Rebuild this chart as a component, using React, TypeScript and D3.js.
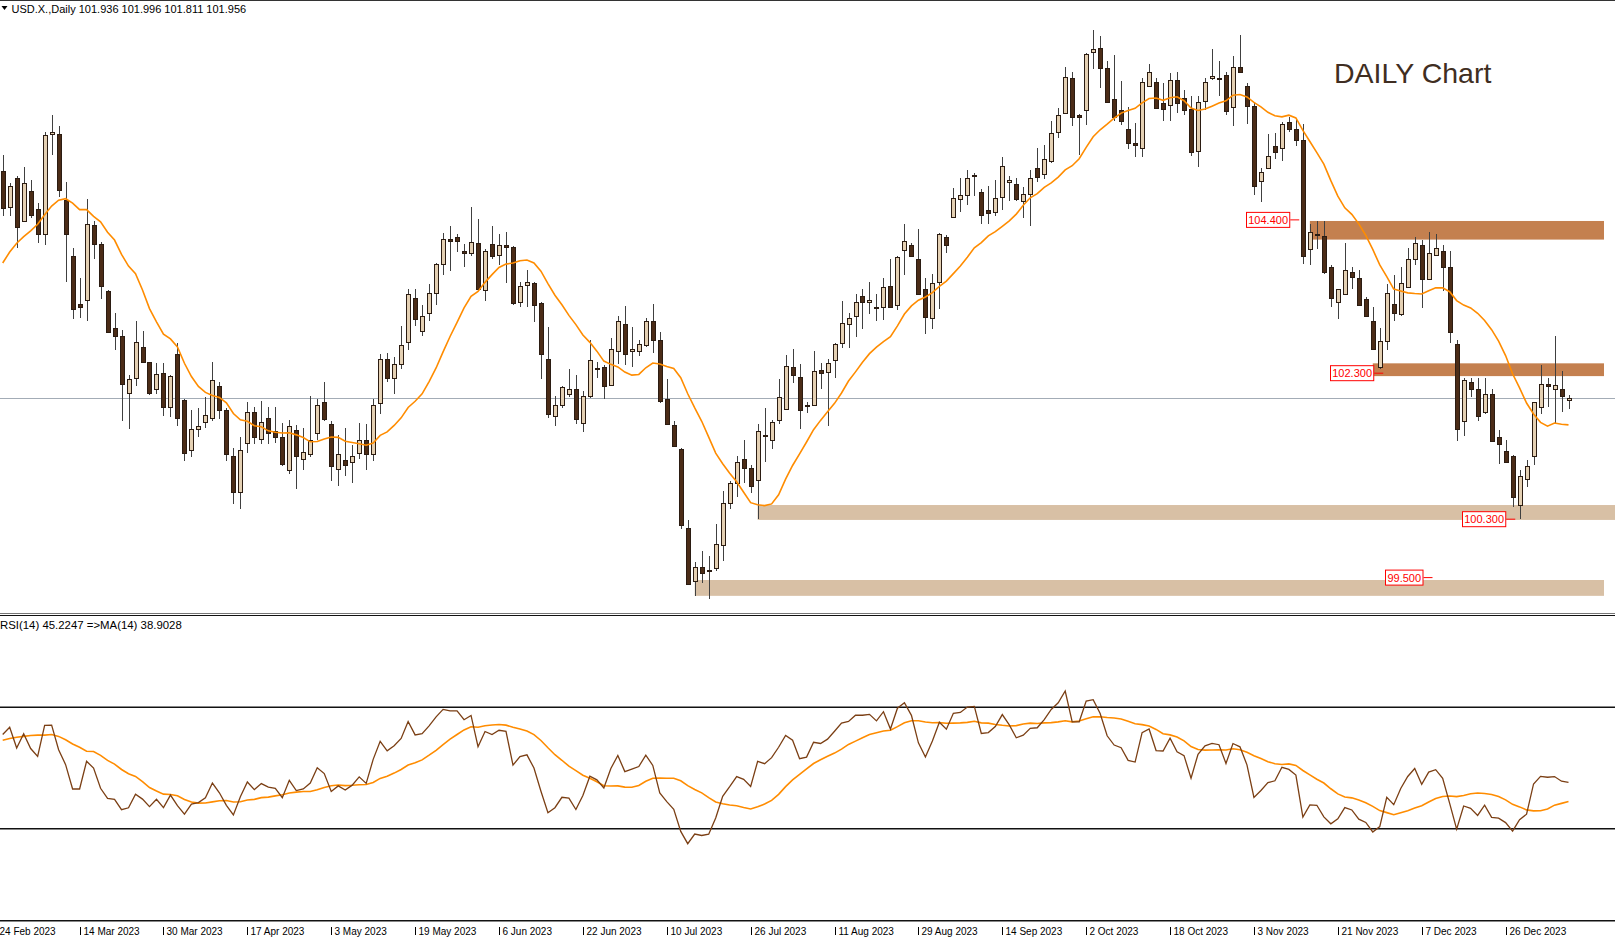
import React, { useEffect } from "react";
import * as d3 from "d3";

const W = 1615;
const H = 941;

// ---- OHLC data (USD.X daily, 27 Feb 2023 -> 9 Jan 2024) ----
const opens = [
  105.07,104.58,104.98,104.39,104.80,104.55,104.20,105.57,105.57,104.67,
  103.90,103.25,103.30,104.33,104.07,103.42,102.92,102.81,102.03,102.24,
  102.66,102.45,102.08,102.30,101.83,102.56,101.93,101.25,101.53,101.63,
  101.68,102.13,101.79,101.17,100.67,101.35,101.77,101.40,101.69,101.51,
  101.43,100.97,101.52,101.13,101.19,101.48,101.90,101.60,100.99,101.11,
  101.09,101.21,101.39,101.19,101.89,102.49,102.24,102.42,102.73,103.33,
  102.88,103.12,103.40,103.79,104.14,104.16,103.97,103.95,104.08,103.44,
  104.07,103.92,104.05,104.03,103.27,103.51,103.53,103.26,102.50,101.71,
  101.86,102.02,102.08,101.62,101.99,102.36,102.38,102.14,102.60,102.98,
  102.60,102.61,102.68,103.01,102.76,101.95,101.59,101.26,100.18,99.45,
  99.64,99.60,99.63,99.95,100.52,100.80,101.13,101.00,100.84,101.45,
  101.39,101.66,101.81,102.38,102.25,101.86,101.86,102.34,102.31,102.48,
  102.71,102.98,103.08,103.36,103.27,103.21,103.21,103.49,103.23,103.99,
  104.06,103.86,103.45,103.05,103.55,104.16,104.44,104.68,104.74,105.00,
  104.78,104.54,104.51,104.72,104.92,104.89,104.66,104.75,105.11,105.03,
  105.21,105.60,105.86,106.35,105.84,105.90,106.70,106.75,106.48,106.06,
  105.90,105.64,105.46,105.38,106.24,106.29,106.00,105.97,106.32,106.07,
  105.92,105.35,106.03,106.34,106.35,106.39,105.95,106.49,106.23,105.96,
  104.93,105.11,105.41,105.39,105.74,105.65,105.49,104.00,104.21,104.18,
  103.76,103.27,103.39,103.69,103.61,103.31,103.01,102.38,102.74,103.25,
  103.11,103.48,103.87,104.06,103.59,103.92,103.97,103.75,102.70,101.65,
  102.18,102.08,101.77,102.01,101.42,101.24,101.17,100.50,100.85,101.17,
  101.83,102.15,102.09,102.08,101.936,
];
const highs = [
  105.29,104.91,105.00,105.12,104.95,104.63,105.60,105.84,105.69,104.92,
  104.01,103.60,104.69,104.38,104.10,103.44,103.12,102.89,102.28,103.01,
  102.88,102.46,102.44,102.44,102.28,102.72,101.95,101.80,101.82,101.97,
  102.46,102.18,101.82,101.27,101.42,101.90,101.83,101.92,101.83,101.83,
  101.62,101.66,101.59,101.55,101.99,101.95,102.18,101.65,101.46,101.55,
  101.31,101.62,101.60,101.95,102.56,102.57,102.52,102.94,103.46,103.46,
  103.23,103.52,103.81,104.22,104.32,104.20,104.07,104.57,104.41,104.00,
  104.32,104.20,104.23,104.04,103.55,103.71,103.55,103.27,102.93,101.99,
  102.13,102.36,102.28,102.06,102.76,102.46,102.41,102.78,103.08,103.22,
  102.93,102.75,103.05,103.25,102.86,102.22,101.64,101.27,100.29,99.71,
  99.86,99.79,100.24,100.68,100.82,101.16,101.39,101.04,101.60,101.82,
  101.66,102.22,102.55,102.63,102.42,101.91,102.60,102.44,102.49,102.72,
  103.29,103.13,103.39,103.45,103.55,103.38,103.60,103.87,103.91,104.35,
  104.09,104.27,103.61,103.66,104.22,104.19,104.83,104.97,105.09,105.04,
  104.82,104.87,104.94,105.26,105.00,104.98,104.85,105.08,105.38,105.42,
  105.75,105.93,106.49,106.43,105.85,106.68,107.00,106.92,106.57,106.66,
  106.30,105.95,105.73,106.34,106.53,106.35,106.27,106.41,106.43,106.18,
  106.10,106.10,106.35,106.74,106.57,106.43,106.65,106.93,106.28,106.00,
  105.11,105.57,105.59,105.74,105.81,105.80,105.71,104.34,104.39,104.39,
  103.78,103.46,104.09,103.75,103.72,103.35,103.20,102.92,103.52,103.65,
  103.76,104.01,104.16,104.13,104.23,104.20,104.05,103.97,102.76,102.24,
  102.24,102.24,102.24,102.08,101.52,101.39,101.18,100.97,101.11,101.91,
  102.41,102.24,102.81,102.33,101.996,
];
const lows = [
  104.45,104.45,104.01,104.38,104.42,104.09,104.06,105.29,104.72,103.55,
  103.04,103.05,103.01,103.86,103.31,102.85,102.62,101.65,101.53,102.13,
  102.45,102.00,102.02,101.72,101.70,101.57,101.10,101.15,101.42,101.55,
  101.65,101.67,101.10,100.51,100.44,101.20,101.33,101.33,101.33,101.35,
  101.03,100.92,100.71,100.98,101.15,101.39,101.65,100.82,100.76,100.89,
  100.80,101.13,100.98,101.10,101.74,102.18,102.01,102.36,102.62,102.95,
  102.81,103.02,103.23,103.65,103.70,103.96,103.75,103.90,103.44,103.29,
  103.87,103.78,103.53,103.23,103.20,103.20,103.00,102.22,101.69,101.58,
  101.82,101.98,101.60,101.49,101.96,102.23,101.94,102.12,102.43,102.41,
  102.39,102.53,102.66,102.58,101.89,101.59,101.29,100.16,99.40,99.25,
  99.43,99.20,99.59,99.73,100.44,100.61,100.79,100.66,100.30,101.08,
  101.26,101.60,101.80,102.16,101.53,101.75,101.85,102.09,101.58,102.24,
  102.64,102.64,102.80,102.91,103.11,103.02,103.03,103.20,103.16,103.64,
  103.89,103.37,102.84,102.91,103.18,103.94,104.44,104.51,104.60,104.73,
  104.34,104.35,104.45,104.53,104.66,104.66,104.42,104.31,104.92,104.96,
  105.18,105.52,105.85,105.69,105.29,105.70,106.46,106.20,106.01,105.75,
  105.70,105.37,105.26,105.26,106.23,105.92,105.76,105.76,105.87,105.84,
  105.28,105.12,105.91,106.32,106.10,105.84,105.68,106.41,105.71,104.74,
  104.64,105.10,105.24,105.20,105.60,105.41,103.80,103.78,104.00,103.66,
  103.21,103.04,103.37,103.45,103.22,103.07,102.62,102.36,102.62,103.02,
  103.09,103.47,103.78,103.19,103.58,103.91,103.42,102.72,101.37,101.44,
  101.98,101.65,101.74,101.36,101.06,101.08,100.47,100.30,100.74,101.04,
  101.74,101.84,101.61,101.77,101.811,
];
const closes = [
  104.56,104.86,104.30,104.90,104.47,104.20,105.56,105.61,104.81,104.20,
  103.18,103.21,104.35,104.07,103.49,102.87,102.81,102.15,102.22,102.73,
  102.46,102.03,102.29,101.83,102.26,101.69,101.20,101.53,101.58,101.73,
  102.21,101.79,101.19,100.67,101.25,101.77,101.42,101.63,101.48,101.43,
  101.05,101.58,101.17,101.22,101.39,101.86,101.67,101.03,101.19,101.04,
  101.17,101.39,101.19,101.87,102.50,102.24,102.42,102.68,103.38,103.04,
  103.09,103.40,103.79,104.14,104.11,104.11,103.94,104.10,103.45,103.97,
  103.90,104.05,104.03,103.26,103.50,103.55,103.23,102.56,101.74,101.86,
  102.11,102.08,101.67,101.99,102.48,102.37,102.12,102.63,103.02,102.56,
  102.63,102.70,103.02,102.76,101.92,101.60,101.30,100.22,99.41,99.65,
  99.56,99.59,99.96,100.52,100.79,101.09,101.00,100.76,101.51,101.44,
  101.63,101.97,102.40,102.28,101.80,101.85,102.33,102.30,102.44,102.70,
  102.99,103.05,103.27,103.27,103.30,103.20,103.48,103.21,103.89,104.11,
  103.90,103.38,103.07,103.53,104.20,104.05,104.70,104.74,104.98,105.01,
  104.47,104.50,104.70,105.14,104.94,104.68,104.76,104.97,104.99,105.24,
  105.59,105.84,106.36,105.81,105.81,106.67,106.74,106.48,106.02,105.81,
  105.75,105.46,105.42,106.29,106.42,105.93,105.92,106.31,106.00,105.91,
  105.33,106.01,106.29,106.37,106.34,105.89,106.50,106.42,105.96,104.87,
  105.06,105.28,105.33,105.71,105.65,105.49,103.90,104.23,104.21,103.68,
  103.33,103.45,103.72,103.62,103.23,103.08,102.63,102.74,103.40,103.12,
  103.53,103.86,104.09,103.59,103.94,104.01,103.75,102.86,101.53,102.21,
  102.09,101.71,102.01,101.37,101.33,101.09,100.60,100.89,101.03,101.90,
  102.15,102.12,102.14,101.99,101.956,
];

// values for the first bars (history before the window)
const maLeadIn = [103.81,103.96,104.08,104.17,104.25,104.34,104.47,104.59,104.67,104.69,104.63,104.54,104.54];
const rsiLeadIn = [61.0,63.4,56.6,61.3,56.4,53.8,64.0,64.1,56.0,51.1,43.1,43.1,52.2,50.0];
const rsiMaLeadIn = [59.1,59.7,60.1,60.4,60.7,60.8,60.8,61.0,60.4,59.3,57.9,56.8,55.5];

const tickLabels = [
  "24 Feb 2023","14 Mar 2023","30 Mar 2023","17 Apr 2023","3 May 2023","19 May 2023",
  "6 Jun 2023","22 Jun 2023","10 Jul 2023","26 Jul 2023","11 Aug 2023","29 Aug 2023",
  "14 Sep 2023","2 Oct 2023","18 Oct 2023","3 Nov 2023","21 Nov 2023","7 Dec 2023","26 Dec 2023",
];
const tickBars = [-1,11,23,35,47,59,71,83,95,107,119,131,143,155,167,179,191,203,215];

const levelPrices = [104.4, 102.3, 100.3, 99.5];
const levelTexts = ["104.400", "102.300", "100.300", "99.500"];
const zoneLow = [104.13, 102.26, 100.29, 99.25];
const zoneHigh = [104.385, 102.435, 100.494, 99.467];
const zoneStartBar = [187, 196, 108, 99];

const headerText = "USD.X.,Daily  101.936 101.996 101.811 101.956";
const rsiText = "RSI(14) 45.2247  =>MA(14) 38.9028";

// ---- layout / style ----
const zoneFill = ["#C4804F", "#C4804F", "#D8C0A5", "#D8C0A5"];
const zoneEndX = [1604, 1604, 1615, 1604];
const labelBoxX = [1246, 1330, 1462, 1385];
const FONT = "'Liberation Sans', Arial, sans-serif";

export default function App() {
  useEffect(() => {
    document.body.style.margin = "0";
  }, []);

  const n = closes.length;
  const x = d3.scaleLinear().domain([0, n - 1]).range([2.7, 1568.5]);
  const y = d3.scaleLinear().domain([99.015, 107.412]).range([613, 0]);
  const yr = d3.scaleLinear().domain([0, 100]).range([920, 616]);

  // SMA(14) of close
  const ma = closes.map((_, i) =>
    i < 13 ? maLeadIn[i] : (d3.mean(closes.slice(i - 13, i + 1)) as number)
  );

  // RSI(14) Wilder
  const rsi: number[] = [];
  let ag = 0;
  let al = 0;
  for (let i = 1; i <= 14; i++) {
    const d = closes[i] - closes[i - 1];
    if (d > 0) ag += d;
    else al -= d;
  }
  ag /= 14;
  al /= 14;
  for (let i = 0; i < n; i++) {
    if (i < 14) rsi.push(rsiLeadIn[i]);
    else if (i === 14) rsi.push(100 - 100 / (1 + ag / al));
    else {
      const d = closes[i] - closes[i - 1];
      ag = (ag * 13 + Math.max(d, 0)) / 14;
      al = (al * 13 + Math.max(-d, 0)) / 14;
      rsi.push(100 - 100 / (1 + ag / al));
    }
  }
  const rsiMa = rsi.map((_, i) =>
    i < 13 ? rsiMaLeadIn[i] : (d3.mean(rsi.slice(i - 13, i + 1)) as number)
  );

  const maLine = d3
    .line<number>()
    .x((_, i) => x(i))
    .y((d) => y(d))(ma) as string;
  const rsiLine = d3
    .line<number>()
    .x((_, i) => x(i))
    .y((d) => yr(d))(rsi) as string;
  const rsiMaLine = d3
    .line<number>()
    .x((_, i) => x(i))
    .y((d) => yr(d))(rsiMa) as string;

  const lastClose = closes[n - 1];

  return (
    <svg
      width={W}
      height={H}
      style={{ position: "absolute", left: 0, top: 0, display: "block", background: "#fff" }}
      fontFamily={FONT}
    >
      <rect x={0} y={0} width={W} height={H} fill="#fff" />
      <defs>
        <clipPath id="mainClip">
          <rect x={0} y={1} width={W} height={612} />
        </clipPath>
        <clipPath id="rsiClip">
          <rect x={0} y={617} width={W} height={303} />
        </clipPath>
      </defs>

      {/* main panel */}
      <g clipPath="url(#mainClip)">
        {zoneLow.map((lo, k) => (
          <rect
            key={"z" + k}
            x={x(zoneStartBar[k])}
            y={y(zoneHigh[k])}
            width={zoneEndX[k] - x(zoneStartBar[k])}
            height={y(lo) - y(zoneHigh[k])}
            fill={zoneFill[k]}
          />
        ))}
        <line x1={0} x2={W} y1={Math.round(y(lastClose)) + 0.5} y2={Math.round(y(lastClose)) + 0.5} stroke="#A3ACB6" strokeWidth={1} />
        {closes.map((c, i) => {
          const cx = Math.round(x(i));
          const o = opens[i];
          const up = c >= o;
          const yTop = Math.round(y(Math.max(o, c)));
          const yBot = Math.round(y(Math.min(o, c)));
          return (
            <g key={"c" + i}>
              <line
                x1={cx + 0.5}
                x2={cx + 0.5}
                y1={Math.round(y(highs[i]))}
                y2={Math.round(y(lows[i]))}
                stroke="#404040"
                strokeWidth={1}
              />
              <rect
                x={cx - 1.5}
                y={yTop + 0.5}
                width={4}
                height={Math.max(1, yBot - yTop)}
                fill={up ? "#E4D0B3" : "#4B2C17"}
                stroke="#2B1C12"
                strokeWidth={1}
              />
            </g>
          );
        })}
        <path d={maLine} fill="none" stroke="#FF8C00" strokeWidth={1.6} />
      </g>

      {/* level labels */}
      {levelPrices.map((p, k) => {
        const yy = y(p);
        const tw = levelTexts[k].length * 5.75;
        const bx = labelBoxX[k];
        return (
          <g key={"l" + k}>
            <line x1={bx + tw + 4} x2={bx + tw + 13} y1={yy} y2={yy} stroke="#FF0000" strokeWidth={1} />
            <rect x={bx + 0.5} y={yy - 7.5} width={tw + 3} height={15} fill="#fff" stroke="#FF0000" strokeWidth={1} />
            <text x={bx + 2 + tw / 2} y={yy + 4} textAnchor="middle" fontSize={11} fill="#FF0000">
              {levelTexts[k]}
            </text>
          </g>
        );
      })}

      <text x={1334} y={83} fontSize={28.5} fill="#3F2E22">
        DAILY Chart
      </text>

      {/* header */}
      <path d="M1.5,6 L7.5,6 L4.5,10 Z" fill="#000" />
      <text x={11.5} y={13} fontSize={11} fill="#000">
        {headerText}
      </text>

      {/* frame lines */}
      <line x1={0} x2={W} y1={0.5} y2={0.5} stroke="#333" strokeWidth={1} />
      <line x1={0} x2={W} y1={613.5} y2={613.5} stroke="#777" strokeWidth={1} />
      <line x1={0} x2={W} y1={615.5} y2={615.5} stroke="#111" strokeWidth={1} />

      {/* RSI panel */}
      <text x={0} y={629} fontSize={11.4} fill="#000">
        {rsiText}
      </text>
      {[70, 30].map((lv) => (
        <line key={"lv" + lv} x1={0} x2={W} y1={yr(lv)} y2={yr(lv)} stroke="#111" strokeWidth={1.6} />
      ))}
      <g clipPath="url(#rsiClip)">
        <path d={rsiMaLine} fill="none" stroke="#FF8C00" strokeWidth={1.6} />
        <path d={rsiLine} fill="none" stroke="#7B3F14" strokeWidth={1.3} />
      </g>

      {/* time axis */}
      <line x1={0} x2={W} y1={920.8} y2={920.8} stroke="#111" strokeWidth={1.5} />
      {tickLabels.map((t, k) => {
        const tx = Math.round(x(tickBars[k])) + 0.5;
        return (
          <g key={"t" + k}>
            <line x1={tx} x2={tx} y1={927} y2={935} stroke="#000" strokeWidth={1} />
            <text x={tx + 3} y={935} fontSize={10} fill="#000">
              {t}
            </text>
          </g>
        );
      })}
    </svg>
  );
}
